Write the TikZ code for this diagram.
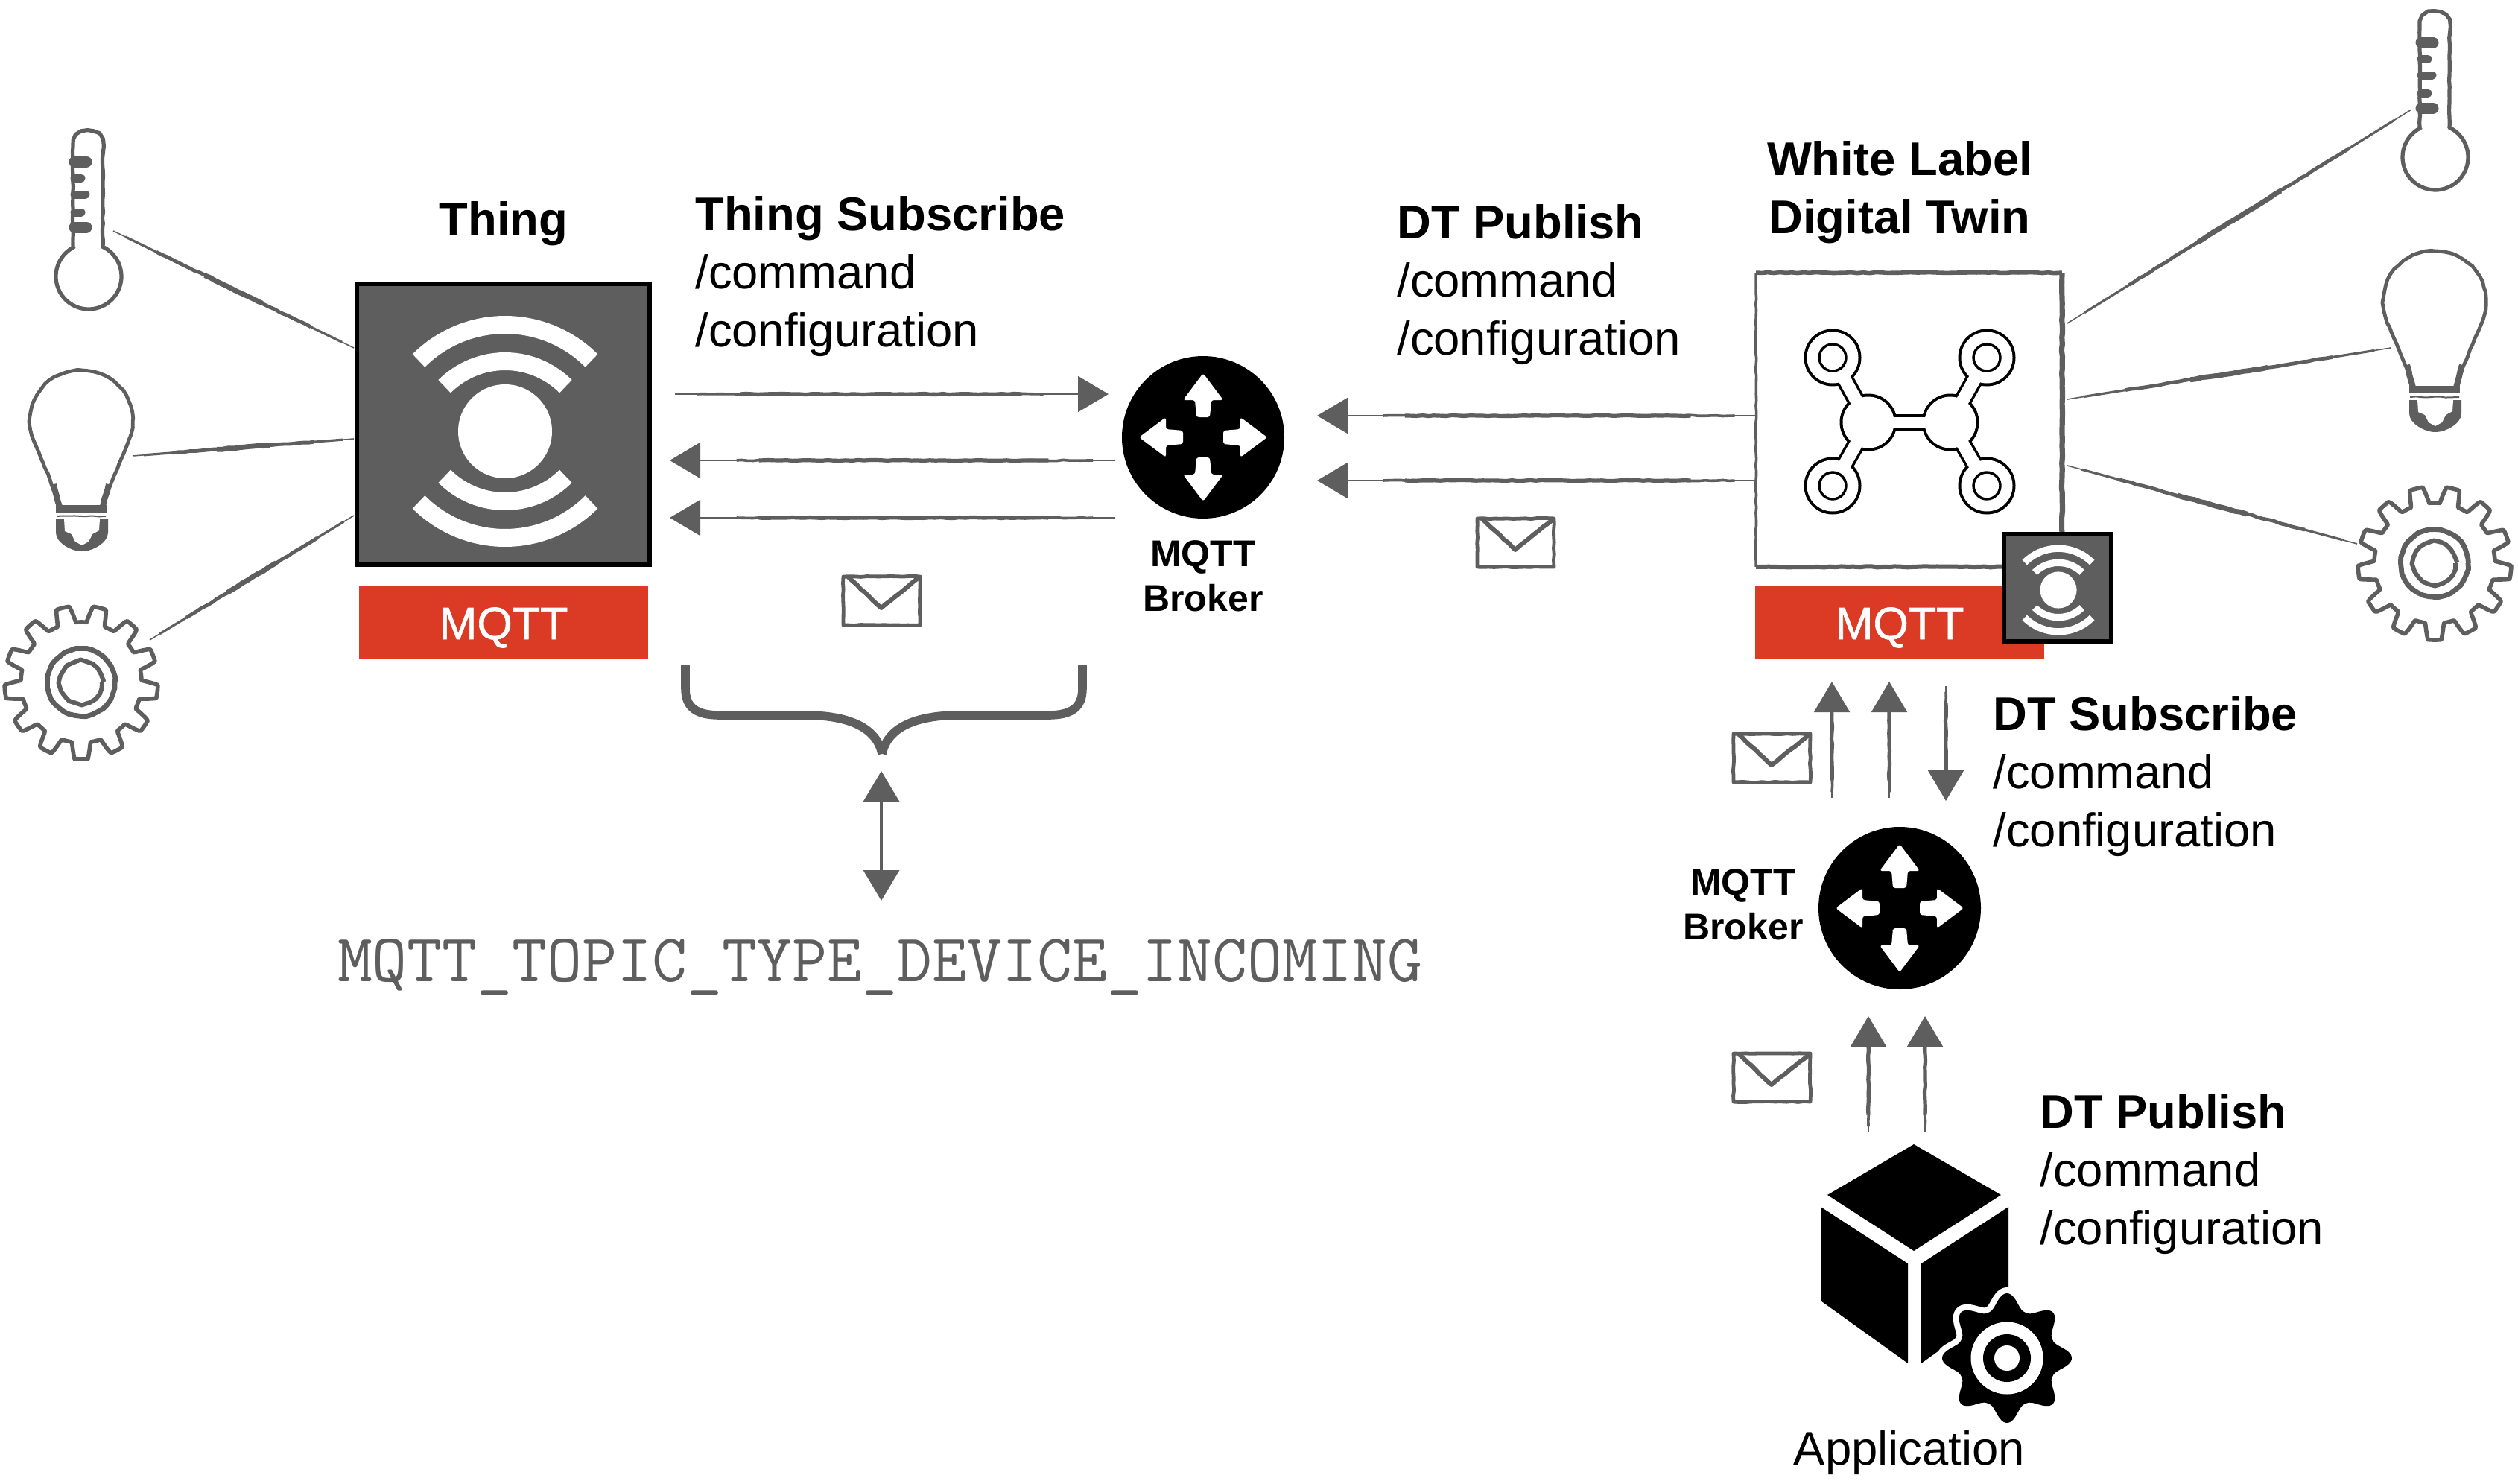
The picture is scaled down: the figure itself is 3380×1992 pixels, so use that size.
\documentclass[tikz,border=0pt]{standalone}
\usepackage{fontspec}
\setmainfont{Liberation Sans}
\newfontfamily\mediumfont[FakeBold=1]{Liberation Sans}
\usetikzlibrary{calc,arrows.meta,decorations.pathmorphing}
\definecolor{skgray}{HTML}{5E5E5E}
\definecolor{mqttred}{HTML}{DB3A25}
\tikzset{
  sk/.style={draw=skgray,line width=#1,line join=round,decorate,decoration={random steps,segment length=4pt,amplitude=.3pt}},
  sk/.default=2pt,
  headtip/.style={-{Triangle[length=20.5pt,width=24pt]}},
  bold label/.style={font=\fontsize{31.7}{39}\selectfont,align=left,anchor=north west,inner sep=0pt,text=black},
  broker label/.style={font=\fontsize{25}{30}\selectfont\bfseries,align=center,anchor=north,inner sep=0pt,text=black},
  red bar/.style={fill=mqttred,inner sep=0pt},
  mqtt text/.style={font=\fontsize{30.5}{36}\selectfont\mediumfont,text=white,anchor=base,inner sep=0pt},
  broker/.style={circle,fill=black,inner sep=0pt,minimum size=109pt},
  icon box/.style={draw=black,fill=skgray,inner sep=0pt},
}
% tapered hand-drawn line between two named coordinates
\newcommand\skline[2]{%
  \draw[draw=skgray,line width=.8pt] (#1) -- (#2);
  \draw[draw=skgray,line width=1.6pt] ($(#1)!.05!(#2)$) -- ($(#1)!.95!(#2)$);
  \draw[sk=2.4pt] ($(#1)!.18!(#2)$) -- ($(#1)!.82!(#2)$);
  \draw[sk=3.4pt] ($(#1)!.38!(#2)$) -- ($(#1)!.62!(#2)$);
}
% hand-drawn arrow: thin tail, thicker shaft, filled head
\newcommand\skarrow[2]{%
  \draw[draw=skgray,fill=skgray,line width=1pt,headtip] (#1) -- (#2);
  \draw[sk=1.8pt] ($(#1)!.05!(#2)$) -- ($(#1)!.85!(#2)$);
  \draw[sk=2.6pt] ($(#1)!.15!(#2)$) -- ($(#1)!.8!(#2)$);
}
\newcommand\thingicon[3]{%
  \fill[white] (#1,#2) circle[radius=63*#3];
  \draw[white,line width=#3*12pt] plot[domain=225:315,samples=40] ({#1+164*#3*cos(\x)},{#2+21*#3+164*#3*sin(\x)});
  \draw[white,line width=#3*12pt] plot[domain=225:315,samples=40] ({#1+115*#3*cos(\x)},{#2+21*#3+115*#3*sin(\x)});
  \draw[white,line width=#3*12pt] plot[domain=45:135,samples=40] ({#1+164*#3*cos(\x)},{#2-21*#3+164*#3*sin(\x)});
  \draw[white,line width=#3*12pt] plot[domain=45:135,samples=40] ({#1+115*#3*cos(\x)},{#2-21*#3+115*#3*sin(\x)});
}
\newcommand\brokerarrows[2]{%
  \foreach \a in {0,90,180,270}{
    \begin{scope}[shift={(#1,#2)},rotate=\a]
      \fill[white,rounded corners=1.6pt] (0,-86) -- (27,-50) -- (11,-50) -- (9,-27) -- (-9,-27) -- (-11,-50) -- (-27,-50) -- cycle;
    \end{scope}}
}
\newcommand\skenvelope[2]{%
  \begin{scope}[shift={(#1,#2)}]
    \draw[sk=2.4pt] (1132,776) -- (1235,776) -- (1235,841) -- (1132,841) -- cycle;
    \draw[sk=3pt] (1138,776) -- (1183,818) -- (1235,776);
  \end{scope}
}
\newcommand\skthermo[2]{%
  \begin{scope}[shift={(#1,#2)}]
    \draw[sk=2.6pt] (98,331) -- (98,196) .. controls (98,182) and (106,176) .. (118,176) .. controls (130,176) and (138,182) .. (138,196) -- (138,331) -- plot[domain=-65:245,samples=60] ({119+44*cos(\x)},{371+44*sin(\x)});
    \draw[skgray,line width=7.5pt,line cap=round] (100,217) -- (116,217);
    \draw[skgray,line width=5.5pt,line cap=round] (100,239) -- (109,239);
    \draw[skgray,line width=5.5pt,line cap=round] (100,261) -- (115,261);
    \draw[skgray,line width=5.5pt,line cap=round] (100,285) -- (109,285);
    \draw[skgray,line width=7.5pt,line cap=round] (100,305) -- (116,305);
  \end{scope}
}
\newcommand\skbulb[2]{%
  \begin{scope}[shift={(#1,#2)}]
    \draw[sk=2.4pt] (79,681) .. controls (72,650) and (58,625) .. (49,600) .. controls (42,585) and (40,575) .. (40,566) .. controls (40,525) and (72,497) .. (109,497) .. controls (146,497) and (178,525) .. (178,566) .. controls (178,575) and (176,585) .. (169,600) .. controls (160,625) and (146,650) .. (139,681);
    \draw[sk=4pt] (80,680) -- (72,650);
    \draw[sk=4pt] (138,680) -- (146,650);
    \fill[skgray] (75,678) -- (143,678) -- (143,688) -- (75,688) -- cycle;
    \draw[sk=1pt] (76,693) -- (142,693);
    \fill[skgray] (75,697) -- (145,697) -- (145,715) .. controls (145,728) and (125,740) .. (110,740) .. controls (95,740) and (75,728) .. (75,715) -- cycle;
    \fill[white] (86,697) -- (134,697) -- (133,712) -- (124,717) -- (119,727) -- (110,732) -- (101,727) -- (96,717) -- (87,713) -- cycle;
  \end{scope}
}
\newcommand\skgear[2]{%
  \begin{scope}[shift={(#1,#2)}]
    \draw[sk=2.8pt] plot[domain=0:360,samples=361] ({109+(92+11*max(-1,min(1,2.4*cos(13*(\x+90)+180))))*cos(\x)},{916+(92+11*max(-1,min(1,2.4*cos(13*(\x+90)+180))))*sin(\x)}) -- cycle;
    \draw[sk=3.4pt] (109,916) circle[radius=45];
    \draw[sk=3pt] (109,916) circle[radius=28];
  \end{scope}
}
\begin{document}
\begin{tikzpicture}[x=.5pt,y=-.5pt]
\useasboundingbox (0,0) rectangle (3380,1992);
\pgfmathsetseed{7}

% ---- Thing
\node[icon box,line width=3pt,minimum width=196.5pt,minimum height=188.5pt] (thing) at (675.5,569.5) {};
\thingicon{678}{579}{1}
\node[red bar,minimum width=194pt,minimum height=49.5pt] (mqttA) at (676,835.5) {};
\node[mqtt text] (mqttAL) at (676,858) {MQTT};
\node[bold label,anchor=base] (thingL) at (676,316) {\textbf{Thing}};

% ---- devices left
\skthermo{0}{0}
\skbulb{0}{0}
\skgear{0}{0}
\coordinate (thA) at (152,310); \coordinate (thB) at (475,467);
\coordinate (buA) at (178,612); \coordinate (buB) at (475,589);
\coordinate (geA) at (201,859); \coordinate (geB) at (475,692);
\skline{thA}{thB}
\skline{buA}{buB}
\skline{geA}{geB}

% ---- Broker A
\node[broker] (brokerA) at (1615,587) {};
\brokerarrows{1615}{587}
\node[broker label] (brokerAL) at (1615,725) {MQTT\\Broker};

% ---- arrows thing <-> broker
\coordinate (a1s) at (906,529); \coordinate (a1e) at (1488,529);
\coordinate (a2s) at (1497,618); \coordinate (a2e) at (899,618);
\coordinate (a3s) at (1497,695); \coordinate (a3e) at (899,695);
\skarrow{a1s}{a1e}
\skarrow{a2s}{a2e}
\skarrow{a3s}{a3e}
\skenvelope{0}{-2}

% ---- arrows DT -> broker
\coordinate (a4s) at (2358,558); \coordinate (a4e) at (1768,558);
\coordinate (a5s) at (2358,645); \coordinate (a5e) at (1768,645);
\skarrow{a4s}{a4e}
\skarrow{a5s}{a5e}
\skenvelope{851}{-80}

% ---- brace and double arrow
\draw[draw=skgray,line width=5.8pt] (920,892) -- (920,924) .. controls (920,950) and (935,960) .. (966,960) -- (1080,960) .. controls (1130,960) and (1176,972) .. (1184,1012);
\draw[draw=skgray,line width=5.8pt] (1453,892) -- (1453,924) .. controls (1453,950) and (1438,960) .. (1407,960) -- (1288,960) .. controls (1238,960) and (1192,972) .. (1184,1012);
\coordinate (dbT) at (1183,1035); \coordinate (dbB) at (1183,1209);
\draw[draw=skgray,fill=skgray,line width=1.6pt,{Triangle[length=20.5pt,width=24pt]}-{Triangle[length=20.5pt,width=24pt]}] (dbT) -- (dbB);
\node[anchor=base,inner sep=0pt,text=skgray,font=\fontsize{45.6}{52}\selectfont\ttfamily\addfontfeature{FakeBold=.6}] (topicL) at (1181,1317) {MQTT\_TOPIC\_TYPE\_DEVICE\_INCOMING};

% ---- Labels
\node[bold label] (tsL) at (933,263) {\textbf{Thing Subscribe}\\/command\\/configuration};
\node[bold label] (dpL) at (1875,274) {\textbf{DT Publish}\\/command\\/configuration};
\node[bold label,align=center,anchor=north] (wlL) at (2550,189) {\textbf{White Label}\\\textbf{Digital Twin}};
\node[bold label] (dsL) at (2675,934) {\textbf{DT Subscribe}\\/command\\/configuration};
\node[bold label] (dp2L) at (2738,1468) {\textbf{DT Publish}\\/command\\/configuration};
\node[bold label,anchor=base] (appL) at (2563,1966) {Application};

% ---- White label box
\node[inner sep=0pt,minimum width=205pt,minimum height=197pt] (wl) at (2562.5,563.5) {};
\draw[sk=1.8pt] (wl.south west) -- (wl.north west);
\draw[sk=2.8pt] (wl.north west) -- (wl.north east);
\draw[sk=3.6pt] (wl.north east) -- (wl.south east);
\draw[sk=3pt] (wl.south east) -- (wl.south west);
% network icon
\foreach \p in {(2460,480),(2667,480),(2460,652),(2667,652)}{\fill[black] \p circle[radius=38.5];}
\foreach \a/\b in {2508/2460,2618/2667}{
  \draw[black,line width=12pt] (\a,567) -- (\b,480);
  \draw[black,line width=12pt] (\a,567) -- (\b,652);
}
\draw[black,line width=11pt] (2508,567) -- (2618,567);
\foreach \p in {(2508,567),(2618,567)}{\fill[black] \p circle[radius=38.5];}
\foreach \a/\b in {2508/2460,2618/2667}{
  \draw[white,line width=8.5pt] (\a,567) -- (\b,480);
  \draw[white,line width=8.5pt] (\a,567) -- (\b,652);
}
\draw[white,line width=7.5pt] (2508,567) -- (2618,567);
\foreach \p in {(2460,480),(2667,480),(2460,652),(2667,652),(2508,567),(2618,567)}{\fill[white] \p circle[radius=34.5];}
\foreach \p in {(2460,480),(2667,480),(2460,652),(2667,652)}{\draw[black,line width=1.7pt] \p circle[radius=18];}

\node[red bar,minimum width=194pt,minimum height=49.5pt] (mqttB) at (2550,835.5) {};
\node[mqtt text] (mqttBL) at (2550,858) {MQTT};
\node[icon box,line width=3.2pt,minimum width=72pt,minimum height=72pt] (badge) at (2762,789) {};
\thingicon{2763}{792}{.39}

% ---- devices right
\skthermo{3150}{-160}
\skbulb{3159}{-160}
\skgear{3159}{-160}
\coordinate (thC) at (2775,434); \coordinate (thD) at (3237,147);
\coordinate (buC) at (2775,536); \coordinate (buD) at (3209,467);
\coordinate (geC) at (2775,625); \coordinate (geD) at (3164,730);
\skline{thC}{thD}
\skline{buC}{buD}
\skline{geC}{geD}

% ---- Broker B
\node[broker] (brokerB) at (2550,1219) {};
\brokerarrows{2550}{1219}
\node[broker label] (brokerBL) at (2340,1166) {MQTT\\Broker};
\coordinate (u1s) at (2459,1071); \coordinate (u1e) at (2459,915);
\coordinate (u2s) at (2536,1071); \coordinate (u2e) at (2536,915);
\coordinate (u3s) at (2612,921); \coordinate (u3e) at (2612,1075);
\skarrow{u1s}{u1e}
\skarrow{u2s}{u2e}
\skarrow{u3s}{u3e}
\skenvelope{1195}{209}
\coordinate (l1s) at (2508,1520); \coordinate (l1e) at (2508,1364);
\coordinate (l2s) at (2584,1520); \coordinate (l2e) at (2584,1364);
\skarrow{l1s}{l1e}
\skarrow{l2s}{l2e}
\skenvelope{1195}{638}

% ---- Application cube
\fill[black] (2569,1536) -- (2686,1604) -- (2569,1679) -- (2453,1604) -- cycle;
\fill[black] (2444,1620) -- (2561,1696) -- (2561,1830) -- (2444,1746) -- cycle;
\fill[black] (2579,1696) -- (2696,1620) -- (2696,1746) -- (2579,1830) -- cycle;
\draw[white,fill=white,line width=8pt] plot[domain=0:360,samples=240] ({2694+(66+21*pow(.5+.5*cos(8*\x),1.3))*cos(\x)},{1823+(66+21*pow(.5+.5*cos(8*\x),1.3))*sin(\x)}) -- cycle;
\fill[black] plot[domain=0:360,samples=240] ({2694+(66+21*pow(.5+.5*cos(8*\x),1.3))*cos(\x)},{1823+(66+21*pow(.5+.5*cos(8*\x),1.3))*sin(\x)}) -- cycle;
\fill[white] (2694,1823) circle[radius=48.5];
\fill[black] (2694,1823) circle[radius=32];
\fill[white] (2694,1823) circle[radius=17];
\end{tikzpicture}
\end{document}
